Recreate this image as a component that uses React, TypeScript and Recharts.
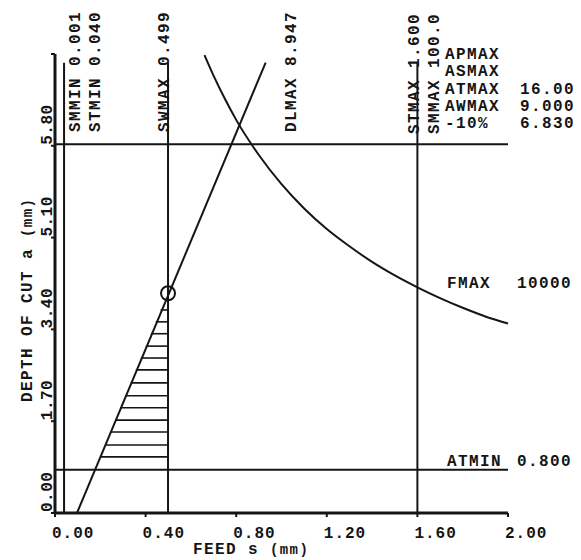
import {
  LineChart,
  Line,
  XAxis,
  YAxis,
  ReferenceLine,
  ReferenceDot,
} from "recharts";

const xTicks = [0, 0.4, 0.8, 1.2, 1.6, 2.0];
const xTickLabels = ["0.00", "0.40", "0.80", "1.20", "1.60", "2.00"];
const yTicks = [0, 1.7, 3.4, 5.1, 6.8, 8.5];
const yTickLabels = ["0.00", "1.70", "3.40", "5.10", "5.80", ""];

// constraint limits (feed s, depth a)
const stmin = 0.04;
const swmax = 0.499;
const stmax = 1.6;
const atmin = 0.8;
const aLimit = 6.83;
const limitTop = 8.34;

// DLMAX line and FMAX curve
const dlS = [0.097, 0.93];
const dlA = [0, 8.34];
const fmaxS = [0.66, 0.7, 0.75, 0.8, 0.9, 1.0, 1.1, 1.2, 1.3, 1.4, 1.5, 1.6, 1.7, 1.8, 1.9, 2.0];
const fmaxA = [8.48, 8.1, 7.67, 7.28, 6.63, 6.09, 5.64, 5.26, 4.94, 4.65, 4.4, 4.18, 3.98, 3.8, 3.64, 3.51];

// hatched feasible region rows
const hatchA = [3.76, 3.54, 3.32, 3.09, 2.87, 2.65, 2.41, 2.17, 1.95, 1.72, 1.5, 1.26, 1.04];
const hatchS = [0.466, 0.445, 0.423, 0.401, 0.379, 0.357, 0.334, 0.31, 0.288, 0.266, 0.245, 0.221, 0.2];

const optS = 0.499;
const optA = 4.07;

const dlData = dlS.map((s, i) => ({ s, a: dlA[i] }));
const fmaxData = fmaxS.map((s, i) => ({ s, a: fmaxA[i] }));

const FONT = '"Liberation Mono", "DejaVu Sans Mono", monospace';
const INK = "#151515";
const txt = {
  fontFamily: FONT,
  fontSize: 16,
  fontWeight: 700,
  fill: INK,
  letterSpacing: 1.4,
};

const XTick = ({ x, y, payload }: any) => {
  const i = xTicks.indexOf(payload.value);
  return (
    <text x={x - 3} y={y + 19} {...txt} letterSpacing={1}>
      {xTickLabels[i]}
    </text>
  );
};

const YTick = ({ x, y, payload }: any) => {
  const i = yTicks.indexOf(payload.value);
  return (
    <text
      transform={`translate(${x + 3},${y - 1}) rotate(-90)`}
      {...txt}
      letterSpacing={0.5}
    >
      {yTickLabels[i]}
    </text>
  );
};

const Rot = ({ x, y, children }: any) => (
  <text transform={`translate(${x},${y}) rotate(-90)`} {...txt}>
    {children}
  </text>
);

const Notes = () => (
  <g>
    <Rot x={80} y={132}>SMMIN 0.001</Rot>
    <Rot x={100} y={132}>STMIN 0.040</Rot>
    <Rot x={169} y={132}>SWMAX 0.499</Rot>
    <Rot x={296} y={132}>DLMAX 8.947</Rot>
    <Rot x={419} y={134}>STMAX 1.600</Rot>
    <Rot x={439} y={134}>SMMAX 100.0</Rot>
    <text x={445} y={59} {...txt}>APMAX</text>
    <text x={445} y={76} {...txt}>ASMAX</text>
    <text x={445} y={94} {...txt}>ATMAX</text>
    <text x={520} y={94} {...txt}>16.00</text>
    <text x={445} y={111} {...txt}>AWMAX</text>
    <text x={520} y={111} {...txt}>9.000</text>
    <text x={445} y={128} {...txt}>-10%</text>
    <text x={520} y={128} {...txt}>6.830</text>
    <text x={447} y={288} {...txt}>FMAX</text>
    <text x={517} y={288} {...txt}>10000</text>
    <text x={447} y={466} {...txt}>ATMIN</text>
    <text x={517} y={466} {...txt}>0.800</text>
    <text x={193} y={554} {...txt}>
      FEED s <tspan fontSize={14}>(mm)</tspan>
    </text>
    <text transform="translate(32,402) rotate(-90)" {...txt}>
      DEPTH OF CUT a <tspan fontSize={14}>(mm)</tspan>
    </text>
  </g>
);

export default function App() {
  return (
    <div style={{ position: "absolute", left: 0, top: 0, background: "#fff" }}>
      <LineChart
        width={581}
        height={560}
        margin={{ top: 54, right: 73, bottom: 0, left: 0 }}
      >
        <XAxis
          type="number"
          dataKey="s"
          domain={[0, 2]}
          ticks={xTicks}
          height={47}
          tickSize={4}
          tickMargin={2}
          axisLine={{ stroke: INK, strokeWidth: 3 }}
          tickLine={{ stroke: INK, strokeWidth: 2 }}
          tick={<XTick />}
          interval={0}
        />
        <YAxis
          type="number"
          dataKey="a"
          domain={[0, 8.5]}
          ticks={yTicks}
          width={55}
          tickSize={4}
          tickMargin={2}
          axisLine={{ stroke: INK, strokeWidth: 3 }}
          tickLine={{ stroke: INK, strokeWidth: 2 }}
          tick={<YTick />}
          interval={0}
        />
        <ReferenceLine y={aLimit} stroke={INK} strokeWidth={2} />
        <ReferenceLine y={atmin} stroke={INK} strokeWidth={2} />
        <ReferenceLine
          segment={[{ x: stmin, y: 0 }, { x: stmin, y: limitTop }]}
          stroke={INK}
          strokeWidth={2}
        />
        <ReferenceLine
          segment={[{ x: swmax, y: 0 }, { x: swmax, y: limitTop }]}
          stroke={INK}
          strokeWidth={2}
        />
        <ReferenceLine
          segment={[{ x: stmax, y: 0 }, { x: stmax, y: limitTop }]}
          stroke={INK}
          strokeWidth={2}
        />
        {hatchA.map((a, i) => (
          <ReferenceLine
            key={i}
            segment={[{ x: hatchS[i], y: a }, { x: swmax, y: a }]}
            stroke={INK}
            strokeWidth={1.6}
          />
        ))}
        <Line
          data={dlData}
          dataKey="a"
          type="linear"
          stroke={INK}
          strokeWidth={2}
          dot={false}
          isAnimationActive={false}
        />
        <Line
          data={fmaxData}
          dataKey="a"
          type="monotone"
          stroke={INK}
          strokeWidth={2}
          dot={false}
          isAnimationActive={false}
        />
        <ReferenceDot
          x={optS}
          y={optA}
          r={7}
          fill="none"
          stroke={INK}
          strokeWidth={2}
        />
        <Notes />
      </LineChart>
    </div>
  );
}
